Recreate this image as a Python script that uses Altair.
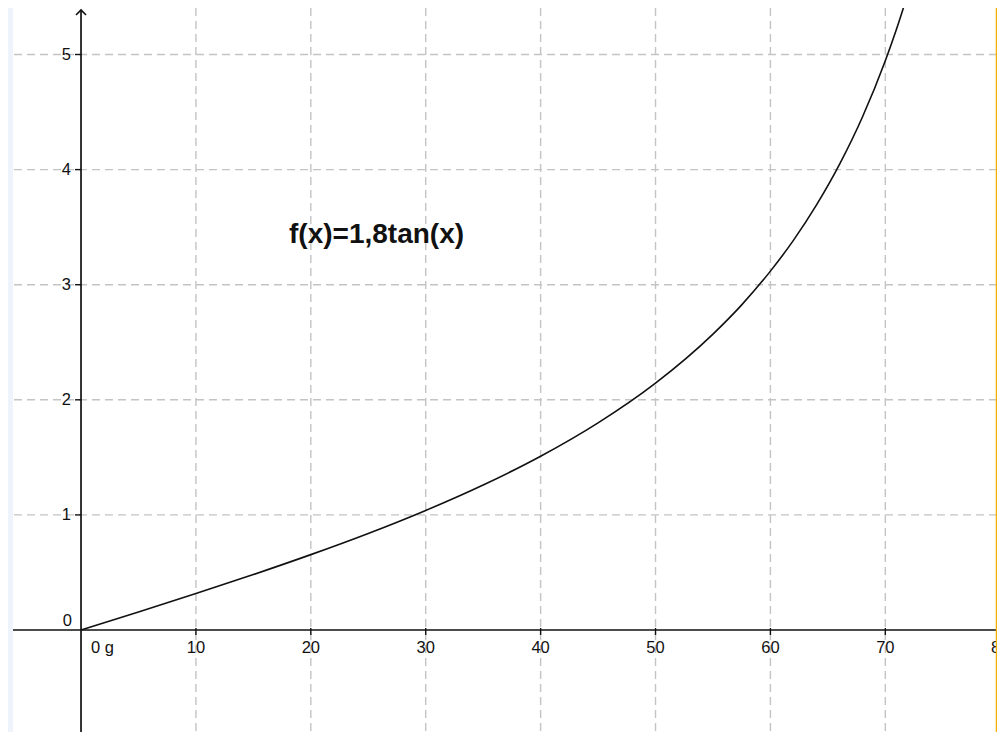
import altair as alt
import pandas as pd

# ---- data ----
curve_x = [0, 5, 10, 15, 20, 25, 30, 35, 40, 45, 50, 55, 57.5, 60, 62, 64, 66, 68, 70, 71, 72]
curve_y = [0, 0.157, 0.317, 0.482, 0.655, 0.839, 1.039, 1.260, 1.510, 1.800, 2.145, 2.571,
           2.825, 3.118, 3.385, 3.691, 4.043, 4.455, 4.946, 5.228, 5.540]

x_ticks = [10, 20, 30, 40, 50, 60, 70, 80]
x_labels = ["10", "20", "30", "40", "50", "60", "70", "80"]
y_ticks = [1, 2, 3, 4, 5]
y_labels = ["1", "2", "3", "4", "5"]
origin_x_label = "0 g"
origin_y_label = "0"
func_label = "f(x)=1,8tan(x)"
func_label_x = [18.1]
func_label_y = [3.43]

X_MIN, X_MAX = -5.92, 79.72
Y_MIN, Y_MAX = -0.886, 5.404
ARROW_TIP = 5.387

FONT = "Liberation Sans"
TXT = "#111111"
LAB = 16.5

xsc = alt.Scale(domain=[X_MIN, X_MAX], nice=False, zero=False)
ysc = alt.Scale(domain=[Y_MIN, Y_MAX], nice=False, zero=False)

curve_df = pd.DataFrame({"x": curve_x, "y": curve_y})
xt_df = pd.DataFrame({"t": x_ticks, "lab": x_labels, "zero": [0] * len(x_ticks)})
yt_df = pd.DataFrame({"t": y_ticks, "lab": y_labels, "zero": [0] * len(y_ticks)})
fl_df = pd.DataFrame({"x": func_label_x, "y": func_label_y, "lab": [func_label]})
orig_df = pd.DataFrame({"x": [0], "y": [0], "lx": [origin_x_label], "ly": [origin_y_label],
                        "ybot": [Y_MIN], "ytop": [ARROW_TIP], "xedge": [X_MAX]})

X = lambda f: alt.X(f, scale=xsc, axis=None)
Y = lambda f: alt.Y(f, scale=ysc, axis=None)

grid_x = alt.Chart(xt_df).mark_rule(strokeDash=[8, 5], color="#c4c4c4", strokeWidth=1.4, clip=True).encode(
    x=X("t:Q"))
grid_y = alt.Chart(yt_df).mark_rule(strokeDash=[8, 5], color="#c4c4c4", strokeWidth=1.4, clip=True).encode(
    y=Y("t:Q"))

x_axis = alt.Chart(orig_df).mark_rule(color="#111111", strokeWidth=1.7).encode(y=Y("y:Q"))
y_axis = alt.Chart(orig_df).mark_rule(color="#111111", strokeWidth=1.7).encode(
    x=X("x:Q"), y=Y("ybot:Q"), y2="ytop:Q")
arrow = alt.Chart(orig_df).mark_point(
    shape="M-1,1L0,0L1,1", size=100, filled=False, color="#111111", strokeWidth=1.6, opacity=1).encode(
    x=X("x:Q"), y=Y("ytop:Q"))

x_tick_marks = alt.Chart(xt_df).mark_rule(color="#111111", strokeWidth=1.4, yOffset=-2, y2Offset=5, clip=True).encode(
    x=X("t:Q"), y=Y("zero:Q"), y2="zero:Q")
y_tick_marks = alt.Chart(yt_df).mark_rule(color="#111111", strokeWidth=1.4, xOffset=-6, x2Offset=0).encode(
    y=Y("t:Q"), x=X("zero:Q"), x2="zero:Q")

x_text = alt.Chart(xt_df).mark_text(font=FONT, fontSize=LAB, color=TXT, baseline="top", dy=10, clip=True).encode(
    x=X("t:Q"), y=Y("zero:Q"), text="lab:N")
y_text = alt.Chart(yt_df).mark_text(font=FONT, fontSize=LAB, color=TXT, align="right", baseline="middle", dx=-10).encode(
    y=Y("t:Q"), x=X("zero:Q"), text="lab:N")
ox_text = alt.Chart(orig_df).mark_text(font=FONT, fontSize=LAB, color=TXT, align="left", baseline="top", dx=10, dy=10).encode(
    x=X("x:Q"), y=Y("y:Q"), text="lx:N")
oy_text = alt.Chart(orig_df).mark_text(font=FONT, fontSize=LAB, color=TXT, align="right", baseline="alphabetic", dx=-9, dy=-4).encode(
    x=X("x:Q"), y=Y("y:Q"), text="ly:N")

curve = alt.Chart(curve_df).mark_line(color="#111111", strokeWidth=1.6, interpolate="monotone", clip=True).encode(
    x=X("x:Q"), y=Y("y:Q"))

func_text = alt.Chart(fl_df).mark_text(font=FONT, fontSize=28, fontWeight="bold", color="#111111",
                                       align="left", baseline="middle").encode(
    x=X("x:Q"), y=Y("y:Q"), text="lab:N")

edge = alt.Chart(orig_df).mark_rule(color="#f5b000", strokeWidth=2.5).encode(x=X("xedge:Q"))

chart = alt.layer(
    grid_x, grid_y, curve, x_axis, y_axis, arrow, x_tick_marks, y_tick_marks,
    x_text, y_text, ox_text, oy_text, func_text, edge
).properties(
    width=984, height=724,
    autosize=alt.AutoSizeParams(type="none"),
    padding={"left": 5, "top": 0, "right": 0, "bottom": 0},
    background="#eef3fc",
).configure_view(fill="white", strokeWidth=0)

chart.save("out.html", embed_options={"renderer": "svg", "actions": False})
